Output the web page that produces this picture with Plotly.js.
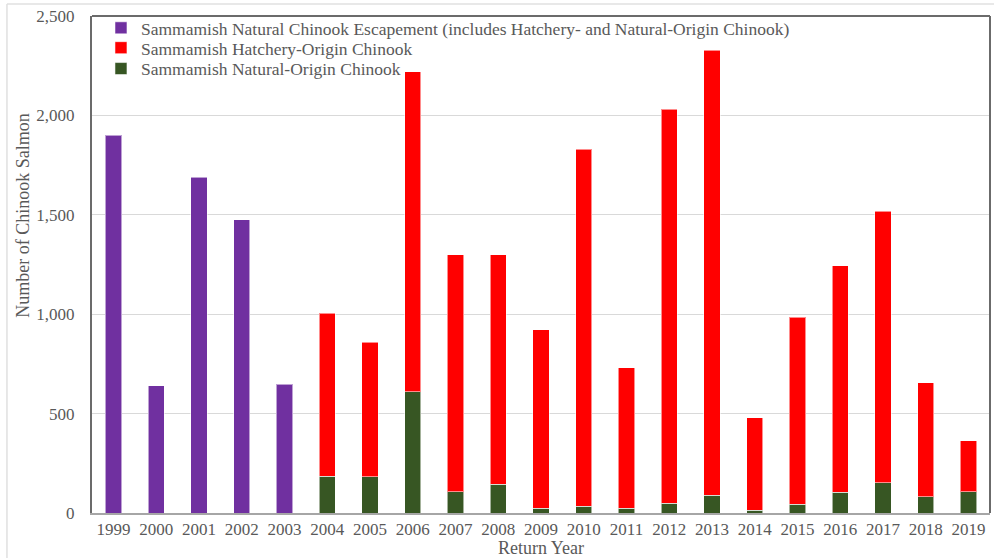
<!DOCTYPE html>
<html>
<head>
<meta charset="utf-8">
<script src="https://cdn.plot.ly/plotly-3.0.1.min.js"></script>
<style>html,body{margin:0;padding:0;background:#fff;}#chart{width:994px;height:558px;}</style>
</head>
<body>
<div id="chart"></div>
<script>
const allYears = ["1999","2000","2001","2002","2003","2004","2005","2006","2007","2008","2009","2010","2011","2012","2013","2014","2015","2016","2017","2018","2019"];
const escapementYears = ["1999","2000","2001","2002","2003"];
const escapement = [1900, 640, 1688, 1475, 648];
const splitYears = ["2004","2005","2006","2007","2008","2009","2010","2011","2012","2013","2014","2015","2016","2017","2018","2019"];
const naturalOrigin = [185, 182, 610, 108, 144, 23, 33, 23, 50, 90, 15, 45, 105, 151, 83, 107];
const hatcheryOrigin = [821, 678, 1609, 1190, 1154, 898, 1796, 707, 1980, 2238, 464, 940, 1139, 1368, 573, 256];
const yTicks = [0, 500, 1000, 1500, 2000, 2500];
const yTickText = ["0", "500", "1,000", "1,500", "2,000", "2,500"];

const serif = "'Liberation Serif', 'DejaVu Serif', serif";
const txt = "#595959";
const edge = {color: "rgba(255,255,255,0.55)", width: 1};

const traces = [
  {type: "bar", name: "Sammamish Natural Chinook Escapement (includes Hatchery- and Natural-Origin Chinook)",
   x: escapementYears, y: escapement, marker: {color: "#7030A0", line: edge}, legend: "legend"},
  {type: "bar", name: "Sammamish Natural-Origin Chinook",
   x: splitYears, y: naturalOrigin, marker: {color: "#375623", line: edge}, legend: "legend3"},
  {type: "bar", name: "Sammamish Hatchery-Origin Chinook",
   x: splitYears, y: hatcheryOrigin, marker: {color: "#FF0000", line: edge}, legend: "legend2"}
];

function leg(yPaper) {
  return {x: 0.01, y: yPaper, xanchor: "left", yanchor: "middle", bgcolor: "rgba(0,0,0,0)",
          font: {family: serif, size: 17.5, color: txt}, itemwidth: 30};
}

const layout = {
  width: 994, height: 558,
  margin: {l: 92, r: 4, t: 16, b: 45, pad: 0},
  paper_bgcolor: "#ffffff", plot_bgcolor: "#ffffff",
  font: {family: serif, color: txt},
  barmode: "stack", bargap: 0.62,
  showlegend: true,
  legend: leg(0.976),
  legend2: leg(0.936),
  legend3: leg(0.894),
  xaxis: {type: "category", categoryorder: "array", categoryarray: allYears,
          tickfont: {family: serif, size: 17, color: txt}, ticks: "", showgrid: false,
          showline: true, linecolor: "#a6a6a6", linewidth: 2, zeroline: false},
  yaxis: {range: [0, 2500], tickvals: yTicks, ticktext: yTickText,
          tickfont: {family: serif, size: 17, color: txt}, ticks: "", ticklen: 0, ticklabelstandoff: 12,
          showgrid: true, gridcolor: "#d9d9d9", gridwidth: 1, zeroline: false,
          showline: true, linecolor: "#6b6b6b", linewidth: 2},
  annotations: [
    {text: "Number of Chinook Salmon", xref: "paper", yref: "y", x: -0.077, y: 1500, textangle: -90,
     showarrow: false, xanchor: "center", yanchor: "middle", font: {family: serif, size: 18, color: txt}},
    {text: "Return Year", xref: "paper", yref: "paper", x: 0.5, y: -0.07, showarrow: false,
     xanchor: "center", yanchor: "middle", font: {family: serif, size: 18, color: txt}}
  ],
  shapes: [
    {type: "line", xref: "paper", yref: "paper", x0: 0, x1: 1, y0: 1, y1: 1, line: {color: "#6b6b6b", width: 2}},
    {type: "line", xref: "paper", yref: "paper", x0: 1, x1: 1, y0: 0, y1: 1, line: {color: "#6b6b6b", width: 2}},
    {type: "line", xref: "paper", yref: "paper", x0: -0.0947, x1: 1.01, y0: 1.024, y1: 1.024, line: {color: "#e0e0e0", width: 1.5}},
    {type: "line", xref: "paper", yref: "paper", x0: -0.0947, x1: -0.0947, y0: -0.1, y1: 1.024, line: {color: "#e0e0e0", width: 1.5}}
  ]
};

Plotly.newPlot("chart", traces, layout, {displayModeBar: false, staticPlot: true});
</script>
</body>
</html>
